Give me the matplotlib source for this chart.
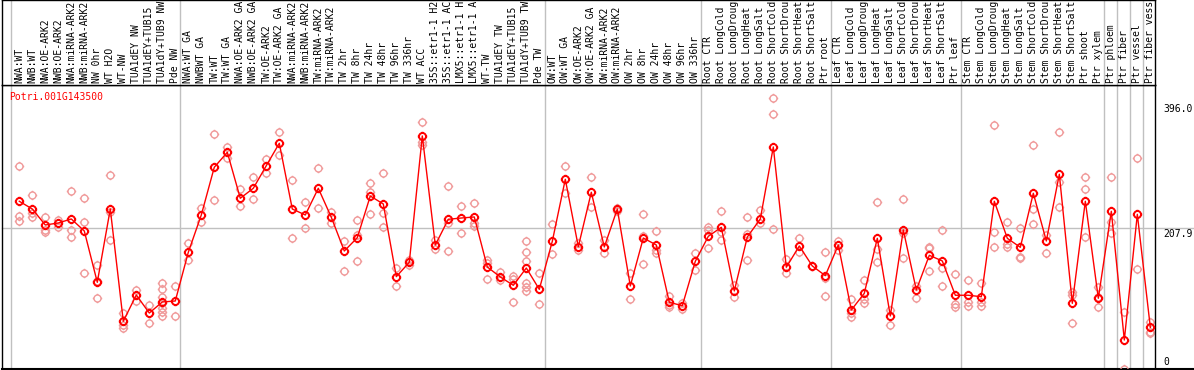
import matplotlib
matplotlib.use("Agg")
import matplotlib.pyplot as plt
from matplotlib.path import Path

# --- data --------------------------------------------------------------
gene = "Potri.001G143500"

samples = [
    "NWA:WT", "NWB:WT", "NWA:OE-ARK2", "NWB:OE-ARK2", "NWA:miRNA-ARK2",
    "NWB:miRNA-ARK2", "NW 0hr", "WT H2O", "WT-NW", "TUA1dEY NW",
    "TUA1dEY+TUB15 NW", "TUA1dY+TUB9 NW", "Pde NW",
    "NWA:WT GA", "NWBWT GA", "TW:WT", "TW:WT GA", "NWA:OE-ARK2 GA",
    "NWB:OE-ARK2 GA", "TW:OE-ARK2", "TW:OE-ARK2 GA", "NWA:miRNA-ARK2 GA",
    "NWB:miRNA-ARK2 GA", "TW:miRNA-ARK2", "TW:miRNA-ARK2 GA", "TW 2hr",
    "TW 8hr", "TW 24hr", "TW 48hr", "TW 96hr", "TW 336hr", "WT ACC",
    "35S::etr1-1 H2O", "35S::etr1-1 ACC", "LMX5::etr1-1 H2O",
    "LMX5::etr1-1 ACC", "WT-TW", "TUA1dEY TW", "TUA1dEY+TUB15 TW",
    "TUA1dY+TUB9 TW", "Pde TW",
    "OW:WT", "OW:WT GA", "OW:OE-ARK2", "OW:OE-ARK2 GA", "OW:miRNA-ARK2",
    "OW:miRNA-ARK2 GA", "OW 2hr", "OW 8hr", "OW 24hr", "OW 48hr", "OW 96hr",
    "OW 336hr",
    "Root CTR", "Root LongCold", "Root LongDrought", "Root LongHeat",
    "Root LongSalt", "Root ShortCold", "Root ShortDrought", "Root ShortHeat",
    "Root ShortSalt", "Ptr root",
    "Leaf CTR", "Leaf LongCold", "Leaf LongDrought", "Leaf LongHeat",
    "Leaf LongSalt", "Leaf ShortCold", "Leaf ShortDrought", "Leaf ShortHeat",
    "Leaf ShortSalt", "Ptr leaf",
    "Stem CTR", "Stem LongCold", "Stem LongDrought", "Stem LongHeat",
    "Stem LongSalt", "Stem ShortCold", "Stem ShortDrought", "Stem ShortHeat",
    "Stem ShortSalt", "Ptr shoot", "Ptr xylem",
    "Ptr phloem", "Ptr fiber", "Ptr vessel", "Ptr fiber vessel",
]
label_chars = 14   # the label strip only shows this many characters

# first sample index of each block separated by a grey line
group_starts = [0, 13, 41, 53, 63, 73, 84, 85, 86, 87]

means = [
    247.0, 235.7, 212.3, 215.2, 221.1, 203.5, 128.4, 235.7, 71.3, 109.8,
    83.4, 99.6, 101.0,
    172.3, 226.9, 296.8, 318.7, 251.4, 266.0, 299.1, 331.9, 235.7, 226.9,
    266.0, 223.6, 174.2, 193.7, 254.7, 243.0, 136.6, 157.7, 342.6, 183.0,
    220.6, 222.5, 224.0, 150.8, 136.2, 124.0, 149.3, 118.1,
    188.4, 279.2, 180.5, 260.2, 180.1, 235.7, 123.0, 193.2, 183.0, 99.1,
    94.1, 159.1,
    195.7, 208.9, 115.7, 194.7, 221.1, 326.5, 150.4, 181.5, 152.3, 138.1,
    183.0, 87.8, 112.3, 192.8, 79.1, 205.0, 117.1, 167.9, 159.6, 109.4,
    109.4, 107.3, 247.0, 192.8, 179.6, 258.7, 188.9, 286.5, 97.6, 247.0,
    105.0,
    232.3, 43.9, 227.9, 62.5,
]

replicates = [
    [298.7, 225.5, 218.1], [256.2, 230.3, 223.6], [224.0, 205.0, 202.5],
    [219.6, 209.8], [262.1, 205.0, 194.3], [251.4, 216.7, 141.6],
    [153.7, 130.7, 105.0], [285.5, 231.3, 190.3], [83.0, 65.9, 61.9],
    [117.1, 101.0], [95.2, 83.0, 68.8],
    [126.9, 118.1, 107.3, 97.6, 90.3, 85.4, 79.1], [123.0, 79.1],
    # TW block
    [185.5, 161.0], [236.7, 216.2], [345.5, 248.9], [326.9, 309.9],
    [264.5, 240.1], [282.1, 249.9], [308.9, 288.0], [348.0, 314.8],
    [278.2, 193.7], [245.5, 207.4], [295.3, 236.7], [230.9, 215.6],
    [188.9, 144.9], [219.6, 197.6, 159.6], [274.2, 261.0, 228.8],
    [288.4, 229.4, 208.9], [149.8, 123.0], [161.0, 153.7],
    [362.6, 334.2, 329.4], [190.3, 176.7], [269.4, 215.6, 174.2],
    [239.7, 200.1], [244.5, 215.6, 210.8], [161.0, 156.2, 132.8],
    [143.9, 131.8], [137.6, 132.8, 99.1],
    [188.9, 173.2, 159.6, 126.9, 121.1, 115.7], [141.6, 96.2],
    # OW block
    [213.3, 169.4], [298.7, 259.6], [185.5, 175.7], [282.1, 239.1],
    [190.3, 170.8], [236.7, 233.2], [141.6, 103.9], [228.4, 196.2, 154.7],
    [203.9, 175.7, 170.8], [108.3, 95.2, 92.7], [98.5, 88.9],
    [170.8, 146.4],
    # root
    [209.8, 205.0, 178.2], [232.8, 202.5, 190.3], [124.4, 106.4],
    [223.6, 198.7, 161.0], [234.2, 214.8], [397.8, 374.3, 206.4],
    [162.1, 142.4], [192.8, 173.2], [152.3, 152.3], [172.3, 135.1, 108.3],
    # leaf
    [189.3, 175.7], [103.5, 83.0, 78.0], [131.8, 103.9, 98.5],
    [245.5, 176.7, 157.7], [87.8, 65.9], [249.9, 200.1, 164.4],
    [123.4, 105.0], [180.5, 178.2, 144.9], [205.0, 149.8, 123.0],
    [140.1, 96.2, 92.7],
    # stem
    [131.8, 100.0, 93.7], [126.9, 100.0, 93.7], [358.2, 201.6, 180.5],
    [216.2, 184.0, 180.5], [208.3, 165.9, 163.5], [329.0, 235.3, 213.7],
    [197.6, 170.8], [348.0, 274.8, 238.2], [114.6, 109.8, 68.4],
    [282.1, 264.5, 194.3], [122.0, 107.3, 92.7],
    # wood cell types
    [282.1, 217.1, 200.1], [85.4, 1.0], [309.9, 147.4],
    [70.7, 56.1, 53.7],
]

max_label = "396.0"
mid_value = 207.9

# --- layout (pixel based, 1194 x 370) ------------------------------------
W, H = 1194, 370
LEFT, RIGHT = 2, 1155
HEAD = 85          # height of the label strip at the top
BOTTOM = 369

fig = plt.figure(figsize=(W / 100, H / 100), dpi=100)
fig.patch.set_facecolor("white")

ax = fig.add_axes([LEFT / W, (H - BOTTOM) / H, (RIGHT - LEFT) / W,
                   (BOTTOM - HEAD) / H])
axl = fig.add_axes([LEFT / W, (H - HEAD) / H, (RIGHT - LEFT) / W, HEAD / H],
                   sharex=ax)

xlim = (-1.33, 87.36)
ylim = (1.46, 417.2)
ax.set_xlim(*xlim)
ax.set_ylim(*ylim)
axl.set_ylim(0, 1)

for a in (ax, axl):
    a.set_xticks([])
    a.set_yticks([])
    for s in a.spines.values():
        s.set_color("black")
        s.set_linewidth(1)

grey = "#c0c0c0"
for b in group_starts:
    ax.axvline(b - 0.6, color=grey, lw=1, zorder=0)
    axl.axvline(b - 0.6, color=grey, lw=1, zorder=0)

# mid line and bottom border run out to the right edge of the image
ext = (W - LEFT) / (RIGHT - LEFT)
ax.axhline(mid_value, xmin=0, xmax=ext, color=grey, lw=1, clip_on=False,
           zorder=0)
ax.axhline(ylim[0], xmin=0, xmax=ext, color="black", lw=1.5, clip_on=False)

# circle marker with small ticks sticking out
ticks = Path([(0, 1), (0, 1.35), (0, -1), (0, -1.35),
              (1, 0), (1.35, 0), (-1, 0), (-1.35, 0)],
             [Path.MOVETO, Path.LINETO] * 4)
ring = Path.make_compound_path(Path.unit_circle(), ticks)

rx, ry = [], []
for i, vals in enumerate(replicates):
    rx += [i] * len(vals)
    ry += vals
ax.plot(rx, ry, ls="none", marker=ring, ms=6.8, mfc="none", mec="#f09a9a",
        mew=1.0, zorder=2)

x = list(range(len(means)))
ax.plot(x, means, color="#ff0000", lw=1, zorder=3)
ax.plot(x, means, ls="none", marker=ring, ms=6.8, mfc="none",
        mec="#ff0000", mew=1.4, zorder=4)

mono = "DejaVu Sans Mono"
fs = 7.0
ax.text((9 - LEFT) / (RIGHT - LEFT), 1 - 12 / (BOTTOM - HEAD), gene,
        transform=ax.transAxes, color="#ff0000", family=mono, fontsize=fs,
        va="center", ha="left")

for i, name in enumerate(samples):
    axl.text(i, 2 / HEAD, name[:label_chars], rotation=90, ha="center",
             va="bottom", family=mono, fontsize=fs)

fig.text(1163 / W, 1 - 104 / H, max_label, family=mono, fontsize=fs,
         va="top", ha="left")
fig.text(1163 / W, 1 - 229 / H, f"{mid_value:.1f}", family=mono,
         fontsize=fs, va="top", ha="left")
fig.text(1163 / W, 1 - 367 / H, "0", family=mono, fontsize=fs,
         va="bottom", ha="left")

fig.savefig("out.png", dpi=100)
